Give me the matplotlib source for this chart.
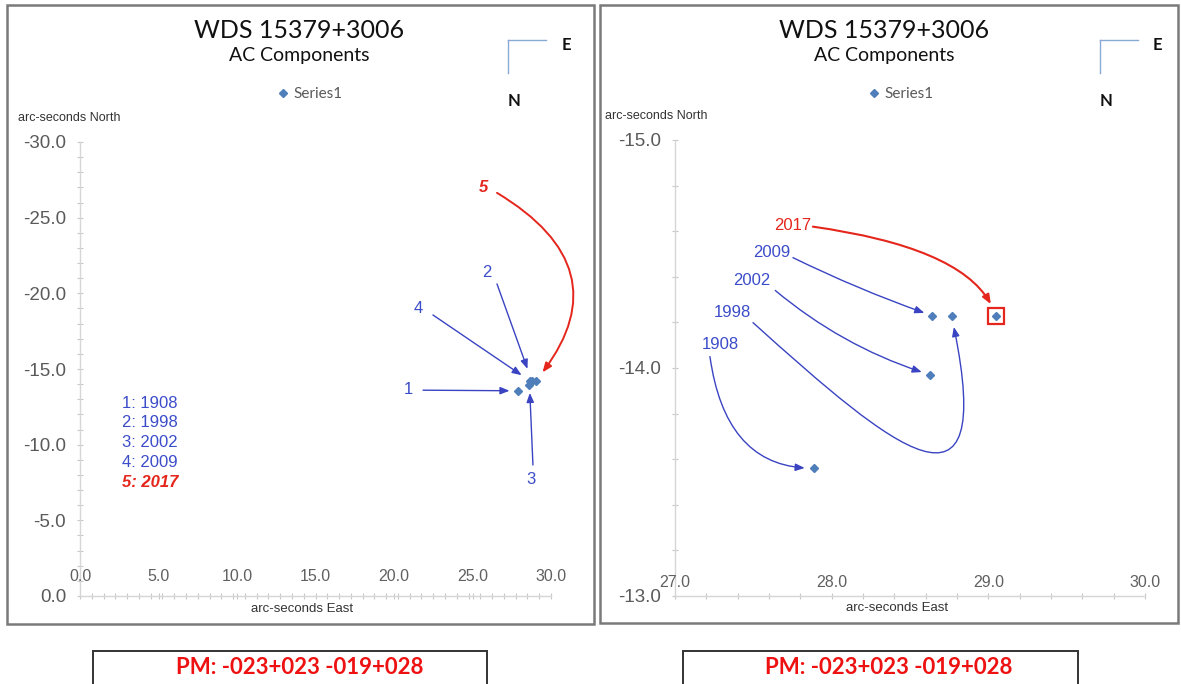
import matplotlib
matplotlib.use('Agg')
import matplotlib.pyplot as plt
from matplotlib.patches import Rectangle, FancyArrowPatch
from matplotlib.path import Path
from matplotlib.lines import Line2D
from matplotlib.ticker import MultipleLocator

# ---------------- data ----------------
years = ['1908', '1998', '2002', '2009', '2017']
short_labels = ['1', '2', '3', '4', '5']
east = [27.89, 28.77, 28.63, 28.64, 29.05]      # arc-seconds East
north = [-13.56, -14.23, -13.97, -14.23, -14.23]  # arc-seconds North

title = 'WDS 15379+3006'
subtitle = 'AC Components'
series_name = 'Series1'
pm_text = 'PM: -023+023 -019+028'
left_xticks = [0, 5, 10, 15, 20, 25, 30]
left_yticks = [0, -5, -10, -15, -20, -25, -30]
right_xticks = [27, 28, 29, 30]
right_yticks = [-13, -14, -15]

# ---------------- style ----------------
BLUE = '#3b4cc9'
ARROW_BLUE = '#3a44c2'
RED = '#e4261c'
MARK = '#4f7fbb'
GREY = '#5a5a5a'
TITLE_FONT = 'Lato'
AX_FONT = 'Liberation Sans'

W, H = 1181, 684
fig = plt.figure(figsize=(W / 100, H / 100), dpi=100)
fig.patch.set_facecolor('white')


def fx(x):
    return x / W


def fy(y):
    return 1 - y / H


def rect(x0, y0, x1, y1):
    return [x0 / W, 1 - y1 / H, (x1 - x0) / W, (y1 - y0) / H]


def style_axes(ax, xt, yt, xminor, yminor, xlab_off):
    for s in ['top', 'right']:
        ax.spines[s].set_visible(False)
    for s in ['left', 'bottom']:
        ax.spines[s].set_color('#d6d6d6')
        ax.spines[s].set_linewidth(1.0)
    ax.set_xticks(xt)
    ax.xaxis.set_minor_locator(MultipleLocator(xminor))
    ax.set_yticks(yt)
    ax.set_yticklabels([f'{v:.1f}' for v in yt], fontfamily=AX_FONT)
    ax.yaxis.set_minor_locator(MultipleLocator(yminor))
    ax.tick_params(axis='both', which='both', direction='inout', length=4,
                   color='#c8c8c8', width=0.8)
    ax.tick_params(axis='y', which='major', labelsize=13.5, labelcolor=GREY, pad=8)
    ax.tick_params(axis='x', labelbottom=False)
    for v in xt:
        ax.annotate(f'{v:.1f}', xy=(v, 0), xycoords=('data', 'axes fraction'),
                    xytext=(0, xlab_off), textcoords='offset points',
                    ha='center', va='center', fontsize=11.5, color='#606060',
                    fontfamily=AX_FONT, annotation_clip=False)
    ax.set_facecolor('none')


def arrow(ax, start, end, color, conn='arc3,rad=0', shrinkB=6, lw=1.0):
    a = FancyArrowPatch(start, end, connectionstyle=conn,
                        arrowstyle='-|>,head_length=0.55,head_width=0.22',
                        mutation_scale=10, color=color, lw=lw,
                        shrinkA=0, shrinkB=shrinkB, clip_on=False)
    ax.add_patch(a)


# ---------------- frames ----------------
fig.add_artist(Rectangle((fx(7), fy(624)), (594 - 7) / W, (624 - 5) / H,
                         transform=fig.transFigure, fill=False,
                         edgecolor='#7a7a7a', lw=1.8))
fig.add_artist(Rectangle((fx(600), fy(623)), (1178 - 600) / W, (623 - 5) / H,
                         transform=fig.transFigure, fill=False,
                         edgecolor='#7a7a7a', lw=1.8))

# ---------------- left chart ----------------
axL = fig.add_axes(rect(80, 142, 551, 596))
axL.set_xlim(0, 30)
axL.set_ylim(0, -30)
style_axes(axL, left_xticks, left_yticks, 0.75, 1.0, 14)
axL.plot(east, north, linestyle='none', marker='D', ms=4.5, color=MARK,
         label=series_name, clip_on=False, zorder=5)

left_label_pos = [(20.89, -13.62), (25.92, -21.35), (28.73, -7.73),
                  (21.53, -18.97), (25.67, -26.97)]
left_arrow_start = [(21.85, -13.6), (26.56, -20.62), (28.85, -8.66),
                    (22.48, -18.57), (26.56, -26.64)]
left_shrink = [6, 9, 6, 7, 7.5]
for i, lab in enumerate(short_labels):
    red = (i == 4)
    axL.text(*left_label_pos[i], lab, ha='center', va='center',
             fontsize=12, color=RED if red else BLUE, fontfamily=AX_FONT,
             fontweight='bold' if red else 'normal',
             fontstyle='italic' if red else 'normal', clip_on=False)
    conn = 'angle3,angleA=-31,angleB=51' if red else 'arc3,rad=0'
    arrow(axL, left_arrow_start[i], (east[i], north[i]),
          RED if red else ARROW_BLUE, conn=conn, shrinkB=left_shrink[i],
          lw=1.4 if red else 1.0)

# key list
for i, (lab, yr) in enumerate(zip(short_labels, years)):
    red = (i == 4)
    fig.text(fx(122), fy(403 + 19.8 * i), f'{lab}: {yr}', ha='left', va='center',
             fontsize=12, color=RED if red else BLUE, fontfamily=AX_FONT,
             fontweight='bold' if red else 'normal',
             fontstyle='italic' if red else 'normal')

# ---------------- right chart ----------------
axR = fig.add_axes(rect(675, 140, 1145, 596))
axR.set_xlim(27, 30)
axR.set_ylim(-13, -15)
style_axes(axR, right_xticks, right_yticks, 0.2, 0.2, 10)
axR.plot(east, north, linestyle='none', marker='D', ms=4.5, color=MARK,
         label=series_name, clip_on=False, zorder=5)
# highlight box for the latest measure
axR.plot([east[4]], [north[4]], linestyle='none', marker='s', ms=11.5,
         markerfacecolor='none', markeredgecolor=RED, markeredgewidth=1.6,
         zorder=6)

right_label_pos = [(27.287, -14.103), (27.364, -14.243), (27.491, -14.383),
                   (27.619, -14.505), (27.753, -14.624)]
right_arrow_start = [(27.223, -14.05), (27.498, -14.199), (27.64, -14.34),
                     (27.753, -14.484), (27.88, -14.62)]
for i, yr in enumerate(years):
    red = (i == 4)
    axR.text(*right_label_pos[i], yr, ha='center', va='center', fontsize=12,
             color=RED if red else BLUE, fontfamily=AX_FONT)

# 1908
arrow(axR, right_arrow_start[0], (east[0], north[0]), ARROW_BLUE,
      conn='angle3,angleA=-82,angleB=0', shrinkB=7)
# 1998: long loop (cubic bezier)
p0 = right_arrow_start[1]
p3 = (east[1] + 0.01, north[1] + 0.05)
verts = [p0, (28.40, -13.64), (29.05, -13.27), p3]
loop = FancyArrowPatch(path=Path(verts, [Path.MOVETO, Path.CURVE4, Path.CURVE4, Path.CURVE4]),
                       arrowstyle='-|>,head_length=0.55,head_width=0.22',
                       mutation_scale=10, color=ARROW_BLUE, lw=1.0, clip_on=False)
axR.add_patch(loop)
# 2002
arrow(axR, right_arrow_start[2], (east[2], north[2]), ARROW_BLUE,
      conn='arc3,rad=0.1', shrinkB=6.5)
# 2009
arrow(axR, right_arrow_start[3], (east[3], north[3]), ARROW_BLUE,
      conn='arc3,rad=0.03', shrinkB=5.8)
# 2017
arrow(axR, right_arrow_start[4], (east[4], north[4]), RED,
      conn='angle3,angleA=-8,angleB=-70', shrinkB=9, lw=1.5)

# ---------------- titles / legends / labels ----------------
for cx in [299, 884]:
    fig.text(fx(cx), fy(30), title, ha='center', va='center', fontsize=18,
             fontfamily=TITLE_FONT, color='#111111')
    fig.text(fx(cx), fy(55), subtitle, ha='center', va='center', fontsize=14,
             fontfamily=TITLE_FONT, color='#111111')

for ax, cx in [(axL, 311), (axR, 902)]:
    ax.legend(loc='center', bbox_to_anchor=(fx(cx), fy(94)),
              bbox_transform=fig.transFigure, frameon=False,
              handlelength=0.5, handletextpad=0.4, labelcolor=GREY,
              prop={'family': TITLE_FONT, 'size': 11})

# axis titles
fig.text(fx(18), fy(118), 'arc-seconds North', ha='left', va='center',
         fontsize=9, fontfamily=AX_FONT, color='#333333')
fig.text(fx(605), fy(116), 'arc-seconds North', ha='left', va='center',
         fontsize=9, fontfamily=AX_FONT, color='#333333')
fig.text(fx(302), fy(609), 'arc-seconds East', ha='center', va='center',
         fontsize=9.5, fontfamily=AX_FONT, color='#333333')
fig.text(fx(897), fy(608), 'arc-seconds East', ha='center', va='center',
         fontsize=9.5, fontfamily=AX_FONT, color='#333333')

# compass corners
for x0, ex, nx in [(508, 566, 514), (1100, 1157, 1106)]:
    fig.add_artist(Line2D([fx(x0), fx(x0 + 38)], [fy(40), fy(40)],
                          transform=fig.transFigure, color='#8aaad6', lw=1))
    fig.add_artist(Line2D([fx(x0), fx(x0)], [fy(40), fy(73)],
                          transform=fig.transFigure, color='#8aaad6', lw=1))
    fig.text(fx(ex), fy(45), 'E', ha='center', va='center', fontsize=12,
             fontweight='bold', fontfamily=TITLE_FONT, color='#111111')
    fig.text(fx(nx), fy(101), 'N', ha='center', va='center', fontsize=12,
             fontweight='bold', fontfamily=TITLE_FONT, color='#111111')

# PM boxes
for x0, x1, tx in [(93, 487, 300), (683, 1078, 889)]:
    fig.add_artist(Rectangle((fx(x0), fy(700)), (x1 - x0) / W, (700 - 651) / H,
                             transform=fig.transFigure, fill=False,
                             edgecolor='#333333', lw=1.4, clip_on=False))
    fig.text(fx(tx), fy(667), pm_text, ha='center', va='center', fontsize=16,
             fontweight='bold', fontfamily=TITLE_FONT, color='#ee1111')

fig.savefig('out.png', dpi=100, facecolor='white')
